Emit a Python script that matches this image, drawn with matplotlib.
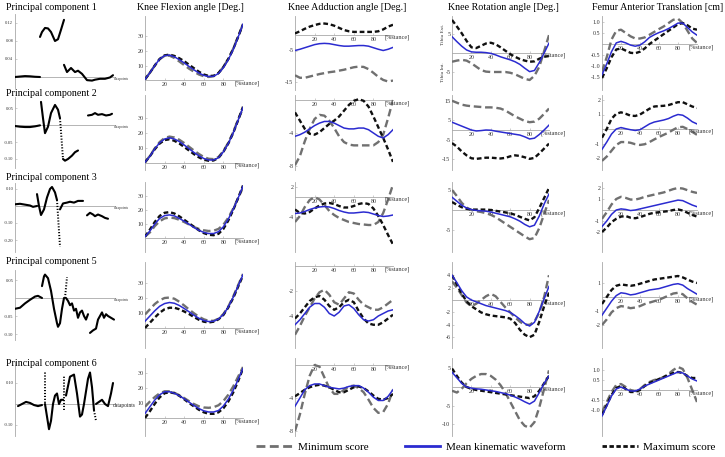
import numpy as np
import matplotlib
matplotlib.use("Agg")
import matplotlib.pyplot as plt
from matplotlib.lines import Line2D

plt.rcParams['font.family'] = ['Liberation Serif', 'DejaVu Serif']

# ---------------- data ----------------
stance = [0, 5, 10, 15, 20, 25, 30, 35, 40, 45, 50, 55, 60, 65, 70, 75, 80, 85, 90, 95, 100]
x_ticks = [20, 40, 60, 80]

row_titles = ["Principal component 1", "Principal component 2", "Principal component 3",
              "Principal component 5", "Principal component 6"]
col_titles = ["Knee Flexion angle [Deg.]", "Knee Adduction angle [Deg.]",
              "Knee Rotation angle [Deg.]", "Femur Anterior Translation [cm]"]
legend_labels = ["Minimum score", "Mean kinematic waveform", "Maximum score"]

# Knee flexion  (min, mean, max) per row
flex_min = [
    [0.5,5,10,14.5,16.6,16.8,15.2,12.8,10.3,7.8,5.7,3.8,2.6,2.1,2.6,4.8,9,14.6,21.6,30,38.5],
    [0.5,4.8,9.8,14,16.7,17.6,17,15.5,13.3,10.8,8.3,6,4,2.8,2.6,4,8,13.5,20.5,29,36.5],
    [1,4,8.5,12,14,14.6,14.2,13,11.4,9.6,7.8,6.5,5.5,5,5.2,6.5,9.5,14.5,21,28.5,36],
    [9,12.5,16,18.5,20,20.3,19.5,17.5,15,12.3,9.8,7.5,5.8,4.8,4.8,6.2,9.3,14.3,21,28.5,36],
    [7.5,11,14,16.5,17.8,17.8,16.8,15.2,13.3,11.2,9.3,7.8,7,6.8,7.2,8.5,11.3,15.5,21,27.5,34],
]
flex_mean = [
    [0.5,5,10,14.5,16.8,17.2,16,14,11.8,9.3,7,4.8,3.2,2.4,2.6,4.5,8.5,14,21,29.5,38.5],
    [0.5,4.5,9.5,13.5,16,16.8,16,14.3,12,9.5,7,4.8,3,2,2,3.5,7.5,13,20,28.5,37],
    [1,5,10,14,16,16.5,15.8,14,12,9.8,7.5,5.5,4,3.2,3.2,4.5,8,13.5,20.5,28.5,37],
    [4.5,8,11.5,14.5,16.3,17,16.5,15,13,10.8,8.5,6.5,5,4.3,4.5,6,9,14,20.5,28,35.5],
    [3,7.5,12,15.5,17.5,17.5,16.5,14.8,12.8,10.5,8.3,6.3,4.8,4,4,5,8,12.5,18.5,25.5,33],
]
flex_max = [
    [0.5,5,10,14.5,17,17.5,16.6,15,13,10.5,8.1,5.7,3.8,2.8,2.9,4.8,9,14.5,21.3,29.7,38.5],
    [0.5,4.5,9.2,13,15.3,15.8,14.8,13,10.7,8.3,5.9,3.8,2.2,1.5,1.7,3.4,7.5,13,20,28.5,37.5],
    [1,6,11.5,15.8,18,18.5,17.5,15.5,13,10.5,8,5.5,3.5,2.3,2,3,6.5,12.5,20,28.5,37.5],
    [0,3.5,7,10.2,12.5,13.5,13.5,12.5,11,9.3,7.3,5.5,4.2,3.7,4.2,5.8,8.7,13.7,20,27.5,35],
    [0,4.5,9.5,13.8,16.5,17.2,16.5,14.8,12.5,10,7.7,5.5,3.8,2.8,2.8,3.8,6.5,11,17,24.5,33],
]

# Knee adduction
add_min = [
    [-13,-13.8,-13.8,-13.4,-13,-12.6,-12.3,-12,-11.8,-11.5,-11.2,-10.8,-10.4,-10.2,-10.3,-11,-12.2,-13.5,-14.5,-15,-14.7],
    [-7.9,-6.8,-5,-3.5,-2.3,-1.8,-1.9,-2.5,-3.4,-4.4,-5.1,-5.4,-5.5,-5.5,-5.5,-5.5,-5.5,-5.1,-4.2,-2.2,0],
    [-5,-3.8,-2,-0.6,0,-0.5,-1.6,-2.8,-3.6,-4.2,-4.6,-5,-5.2,-5.4,-5.5,-5.6,-5.6,-5,-3.2,-0.5,2.5],
    [-5.5,-4.8,-4,-3.3,-2.6,-2.1,-1.9,-2.3,-2.9,-3.1,-2.6,-2.1,-2.2,-2.7,-3.1,-3.3,-3.5,-3.5,-3.3,-3,-2.7],
    [-8,-6,-3.5,-1.3,0,-0.2,-1.5,-2.8,-3.5,-3.5,-3,-2.6,-2.5,-2.8,-3.3,-4.2,-5.2,-5.8,-5.7,-4.7,-3],
]
add_mean = [
    [-5,-4.6,-4.1,-3.6,-3.1,-2.8,-2.7,-2.8,-3.1,-3.4,-3.6,-3.6,-3.5,-3.4,-3.4,-3.6,-4.1,-4.6,-5,-4.6,-4],
    [-4.4,-4.2,-3.9,-3.5,-3.1,-2.8,-2.6,-2.6,-2.8,-3.1,-3.4,-3.5,-3.5,-3.4,-3.4,-3.6,-4,-4.4,-4.6,-4.2,-3.6],
    [-3.3,-3.2,-2.9,-2.5,-2.2,-2,-1.9,-2,-2.3,-2.7,-3,-3.2,-3.2,-3.1,-3,-3.1,-3.4,-3.7,-3.9,-3.8,-3.6],
    [-4.7,-4.3,-3.8,-3.3,-3,-3,-3.3,-3.8,-4,-3.7,-3.2,-3.1,-3.4,-3.9,-4.3,-4.4,-4.3,-4,-3.8,-3.6,-3.5],
    [-5,-4,-3,-2.5,-2.3,-2.3,-2.5,-2.7,-2.8,-2.9,-2.8,-2.6,-2.5,-2.5,-2.8,-3.3,-3.9,-4.3,-4.3,-3.8,-3],
]
add_max = [
    [0.5,1.2,2,2.7,3.2,3.6,3.7,3.5,3,2.3,1.6,1.2,1,1,1,1,1,1.2,1.8,2.7,3.3],
    [-1.5,-2.5,-3.5,-4.1,-4.2,-3.9,-3.4,-2.9,-2.5,-2,-1.3,-0.6,-0.1,0.1,-0.1,-0.8,-2,-3.3,-4.6,-6,-7.5],
    [-2.5,-3.2,-3.3,-3,-2.3,-1.7,-1.3,-1.2,-1.4,-1.8,-2.1,-2.1,-1.8,-1.4,-1.2,-1.4,-2.3,-3.8,-5.6,-7.6,-9.5],
    [-4.2,-3.8,-3.3,-2.8,-2.5,-2.4,-2.7,-3.2,-3.5,-3.3,-2.9,-2.7,-2.9,-3.6,-4.2,-4.6,-4.7,-4.7,-4.5,-4.2,-3.9],
    [-3.8,-3.4,-3,-2.7,-2.5,-2.4,-2.5,-2.7,-3,-3.3,-3.3,-3,-2.7,-2.6,-2.8,-3.2,-3.7,-4.1,-4.2,-4,-3.5],
]

# Knee rotation
rot_min = [
    [-2.3,-2,-1.8,-2,-2.7,-3.6,-4.5,-4.9,-5,-5,-5,-5,-5.2,-5.6,-6.2,-6.8,-7.1,-6,-3.6,0.5,4.7],
    [15,14,13,12.5,12.2,12,11.8,11.6,11.6,11.4,11,10,8.5,7,5.8,4.6,4,4.3,5.8,8.3,11],
    [5,3.5,1.8,0.6,0,-0.3,-0.5,-0.8,-1.2,-1.8,-2.6,-3.4,-4.2,-5,-5.8,-6.6,-7.3,-7,-4.5,-1,2.5],
    [3,2,0.8,-0.4,-1,-0.6,0,0.6,1,0.6,-0.3,-1.2,-2,-2.8,-3.5,-4,-4,-3.5,-2,0.5,4],
    [-1,-1.5,-0.5,1,2.2,3,3.5,3.5,3,2,0.5,-1.5,-4,-6.5,-9,-10.5,-11,-9.5,-5.5,-0.5,4.5],
]
rot_mean = [
    [4.3,3,1.8,0.8,0.3,0.2,0.2,0.1,-0.1,-0.5,-1,-1.4,-1.8,-2.3,-3,-4,-4.9,-4.6,-2.5,0,2.6],
    [4,3,2,1,0,-0.5,-0.3,0,-0.1,-0.6,-1,-1.4,-1.8,-2.2,-2.6,-3.5,-4.6,-4.2,-2.3,0,2.5],
    [3.2,2.2,1.2,0.5,0.1,-0.1,-0.2,-0.3,-0.5,-0.8,-1.1,-1.4,-1.7,-2.2,-2.8,-3.6,-4.2,-3.8,-1.5,1.5,4],
    [4,2.8,1.5,0.5,0,-0.3,-0.6,-0.9,-1.1,-1.3,-1.5,-1.7,-2,-2.5,-3.1,-3.8,-4.2,-3.6,-1.8,0.2,2.2],
    [4,2.5,1,0,-0.3,-0.5,-0.6,-0.8,-1,-1.2,-1.5,-1.8,-2.2,-2.7,-3.3,-4,-4.6,-3.8,-1.5,1,3],
]
rot_max = [
    [8.7,7,5.2,3.2,1.5,1.3,1.9,2.5,2.7,2.3,1.5,0.6,-0.3,-1,-1.6,-2,-2.3,-2.2,-1.5,-1,-0.8],
    [-6.7,-8.5,-11,-13,-14.5,-14.8,-14.5,-14.2,-14.2,-14.4,-14.6,-14.3,-13.5,-13,-13.3,-14,-14.8,-14.3,-12,-9.5,-7],
    [2,1.3,0.7,0.3,0.1,0.1,0.1,0.1,0,-0.2,-0.4,-0.6,-0.8,-1.2,-1.7,-2.2,-2.6,-1.8,0.5,3,5.5],
    [4,2.5,1,-0.2,-1,-1.5,-2,-2.3,-2.5,-2.6,-2.7,-2.8,-3,-3.7,-4.8,-5.6,-6,-5.6,-3.5,-1,1.2],
    [5,3,1.2,0,-0.5,-0.8,-1,-1.2,-1.4,-1.6,-1.8,-2,-2.2,-2.4,-2.6,-2.8,-3,-2.5,-1,1,3],
]

# Femur anterior translation
fem_min = [
    [-1.25,-0.6,0.2,0.6,0.65,0.5,0.35,0.25,0.25,0.3,0.42,0.55,0.68,0.8,0.95,1.1,1.15,0.95,0.6,0.25,0.05],
    [-2.2,-1.9,-1.5,-1.1,-0.9,-0.9,-0.95,-1.05,-1.1,-1.05,-0.9,-0.72,-0.55,-0.4,-0.25,-0.05,0.12,0.15,0,-0.2,-0.4],
    [-0.8,-0.2,0.5,1,1.2,1.1,0.95,0.95,1.05,1.2,1.3,1.4,1.5,1.6,1.75,1.9,2,1.95,1.8,1.65,1.55],
    [-2,-1.6,-1.1,-0.8,-0.65,-0.7,-0.8,-0.75,-0.65,-0.5,-0.4,-0.3,-0.2,-0.05,0.1,0.25,0.3,0.2,-0.1,-0.35,-0.55],
    [-1.1,-0.6,-0.1,0.25,0.3,0.15,0,-0.05,0.05,0.25,0.4,0.5,0.55,0.65,0.8,1,1.15,1.05,0.6,0,-0.6],
]
fem_mean = [
    [-1.4,-0.9,-0.35,0.05,0.12,0.05,-0.05,-0.1,-0.05,0.1,0.3,0.42,0.52,0.6,0.7,0.82,0.95,0.95,0.75,0.55,0.4],
    [-1.4,-0.9,-0.35,0,0.1,0.02,-0.05,-0.1,-0.05,0.15,0.35,0.48,0.55,0.62,0.72,0.88,1,0.95,0.75,0.5,0.35],
    [-1.5,-1,-0.4,0,0.1,0.05,-0.05,0,0.1,0.2,0.3,0.4,0.5,0.6,0.7,0.8,0.9,0.85,0.65,0.45,0.3],
    [-1.3,-0.8,-0.3,0.1,0.3,0.25,0.15,0.2,0.3,0.4,0.5,0.55,0.6,0.7,0.8,0.9,0.95,0.85,0.6,0.4,0.2],
    [-1.3,-0.8,-0.3,0.05,0.15,0.05,-0.05,-0.05,0.05,0.2,0.3,0.4,0.5,0.6,0.7,0.8,0.9,0.85,0.7,0.55,0.45],
]
fem_max = [
    [-1.55,-1.1,-0.6,-0.25,-0.2,-0.3,-0.4,-0.42,-0.35,-0.2,0,0.15,0.3,0.45,0.6,0.75,0.9,0.95,0.85,0.7,0.65],
    [-0.6,0,0.7,1.05,1.15,1.05,0.92,0.9,1,1.2,1.4,1.55,1.58,1.6,1.65,1.75,1.85,1.85,1.7,1.55,1.45],
    [-2,-1.6,-1.1,-0.8,-0.6,-0.55,-0.7,-0.75,-0.65,-0.5,-0.35,-0.25,-0.2,-0.15,-0.1,0,0.05,-0.05,-0.25,-0.45,-0.6],
    [-0.5,0,0.5,0.8,0.9,0.85,0.8,0.85,0.95,1.05,1.15,1.25,1.3,1.35,1.4,1.45,1.5,1.4,1.25,1.1,1],
    [-1.25,-0.75,-0.25,0.1,0.2,0.05,-0.1,-0.1,0,0.2,0.35,0.45,0.55,0.65,0.75,0.85,0.9,0.85,0.7,0.6,0.6],
]

# y tick values for each panel [row][col]
yticks_kin = [
    [[10, 20, 30], [-15, -5], [-5, 5], [-1.5, -1.0, -0.5, 0.5, 1.0]],
    [[10, 20, 30], [-8, -4], [-15, -5, 5, 15], [-2, -1, 1, 2]],
    [[10, 20, 30], [-4, 2], [-5, 5], [-2, -1, 1, 2]],
    [[10, 20, 30], [-4, -2], [-6, -4, -2, 2, 4], [-2, -1, 1]],
    [[10, 20, 30], [-8, -4], [-10, -5, 5], [-1.0, -0.5, 0.5, 1.0]],
]

# Principal component waveforms (datapoint index, loading); NaN separates pieces
nan = float('nan')
pc1_x = [0,25,50,75,100,125, nan, 125,135,150,165,180,200,215,230,245, nan,
         245,260,280,300,315,335,360,385,400,425,450,475,490]
pc1_y = [0,0.001,0.002,0.0015,0.0005,0, nan, 0.089,0.1,0.109,0.108,0.1,0.08,0.084,0.105,0.127, nan,
         0.027,0.011,0.02,0.011,0.014,0.007,-0.007,-0.008,-0.006,-0.004,-0.004,-0.001,0.004]
pc1_dx = []
pc1_dy = []

pc2_x = [0,25,50,75,100,125, nan, 130,140,150,165,180,200,215,225, nan,
         240,250,265,285,300,315, nan, 365,385,400,415,435,455,475,485]
pc2_y = [-0.003,-0.005,-0.006,-0.006,-0.004,-0.001, nan, 0.068,0.02,-0.024,-0.005,0.035,0.059,0.045,0.02, nan,
         -0.1,-0.105,-0.1,-0.09,-0.08,-0.075, nan, 0.028,0.03,0.035,0.03,0.032,0.028,0.03,0.033]
pc2_dx = [225, 240]
pc2_dy = [0.02, -0.1]

pc3_x = [0,25,50,75,90,110, nan, 110,120,130,145,160,175,185,200,210, nan,
         225,240,260,275,295,315,340, nan, 360,375,390,400,415,435,450,465]
pc3_y = [0.01,0.013,0.008,0.003,-0.005,0, nan, 0.07,0,-0.053,-0.02,0.05,0.1,0.112,0.08,0.035, nan,
         -0.02,0.015,0.02,0.025,0.02,0.03,0.03, nan, -0.055,-0.04,-0.05,-0.06,-0.05,-0.06,-0.07,-0.075]
pc3_dx = [210, 225]
pc3_dy = [0.035, -0.24]

pc5_x = [0,25,50,75,100,115,135, nan, 135,145,150,165,180,195,210,215,225,235,245, nan,
         255,265,275,285,295,305,315,325,335,345,355,365, nan,
         375,390,405,415,425,435,445,455,465,480,495]
pc5_y = [-0.03,-0.027,-0.015,-0.005,0.004,0.006,0, nan, 0.033,0.06,0.065,0.055,0.02,-0.03,-0.07,-0.08,-0.07,-0.03,0, nan,
         0,-0.008,-0.02,-0.015,-0.035,-0.03,-0.055,-0.04,-0.035,-0.05,-0.06,-0.045, nan,
         -0.097,-0.09,-0.085,-0.06,-0.05,-0.04,-0.055,-0.045,-0.05,-0.055,-0.06]
pc5_dx = [250, 260]
pc5_dy = [0.0, 0.058]

pc6_x = [15,35,55,75,95,115,135, nan, 150,160,170,180,190,200,210,220,230,240, nan,
         255,275,295,310,325,335,345,355,365,375,385,395, nan, 405,420,435,450,465,480,490]
pc6_y = [-0.01,0,0.01,0.005,-0.005,-0.01,-0.005, nan, 0,-0.06,-0.12,-0.08,0,0.04,0.05,0,0.02,0.02, nan,
         0.04,0.13,0.14,0.05,-0.06,-0.05,0,0.06,0.12,0.15,0.08,-0.03, nan, 0,0.01,0.02,0,-0.01,0.05,0.1]
pc6_dx = [150, 150, nan, 245, 245, nan, 395, 405]
pc6_dy = [0.15, 0, nan, 0.13, -0.03, nan, -0.03, -0.08]

pc_x = [pc1_x, pc2_x, pc3_x, pc5_x, pc6_x]
pc_y = [pc1_y, pc2_y, pc3_y, pc5_y, pc6_y]
pc_dx = [pc1_dx, pc2_dx, pc3_dx, pc5_dx, pc6_dx]
pc_dy = [pc1_dy, pc2_dy, pc3_dy, pc5_dy, pc6_dy]
pc_yticks = [[0.04, 0.08, 0.12], [-0.10, -0.05, 0.05], [-0.20, -0.10, 0.10],
             [-0.10, -0.05, 0.05], [-0.10, 0.10]]

# ---------------- layout (pixels) ----------------
W, H = 725, 457
fig = plt.figure(figsize=(W / 100, H / 100), dpi=100)

row_box = [(16, 90), (95, 170), (182, 252), (262, 348), (358, 436)]
col_x = [(145, 243), (295, 393), (452, 549), (602, 697)]
# zero-line pixel and pixels per unit for [row][col]
zero_px = [[80, 35, 53, 44], [163, 100, 130, 129], [238, 197, 210, 210],
           [328, 266, 300, 297], [418, 365, 387, 390]]
ppu = [[1.45, 3.1, 3.8, 22], [1.5, 8.25, 1.95, 14.5], [1.4, 5, 4, 11],
       [1.5, 12.5, 6.2, 14], [1.5, 8.25, 3.7, 20]]
pc_box = [(14, 88), (97, 168), (183, 252), (270, 340), (362, 436)]
pc_zero = [77, 125, 206, 298, 404]
pc_ppu = [450, 340, 170, 360, 210]
pc_title_y = [8, 93, 178, 262, 363]

C_MIN, C_MEAN, C_MAX = '#707070', '#2b2bd0', '#101010'
AX_C = '#a8a8a8'


def add_ax(l, r, t, b):
    return fig.add_axes([l / W, 1 - b / H, (r - l) / W, (b - t) / H])


def style(ax):
    for s in ['top', 'right']:
        ax.spines[s].set_visible(False)
    for s in ['left', 'bottom']:
        ax.spines[s].set_color(AX_C)
        ax.spines[s].set_linewidth(0.6)
        ax.spines[s].set_position(('data', 0))
    ax.patch.set_alpha(0)
    ax.tick_params(direction='in', length=1.5, width=0.4, color=AX_C,
                   labelsize=4.3, labelcolor='#333333', pad=1.2)


all_min = [flex_min, add_min, rot_min, fem_min]
all_mean = [flex_mean, add_mean, rot_mean, fem_mean]
all_max = [flex_max, add_max, rot_max, fem_max]

for r in range(5):
    t, b = row_box[r]
    for c in range(4):
        l, rr = col_x[c]
        ax = add_ax(l, rr, t, b)
        z, p = zero_px[r][c], ppu[r][c]
        ax.set_xlim(0, 100)
        ax.set_ylim((z - b) / p, (z - t) / p)
        style(ax)
        ax.plot(stance, all_min[c][r], color=C_MIN, lw=1.7,
                linestyle=(0, (3.2, 1.6)), zorder=3)
        ax.plot(stance, all_max[c][r], color=C_MAX, lw=1.7,
                linestyle=(0, (2.0, 1.2)), zorder=4)
        ax.plot(stance, all_mean[c][r], color=C_MEAN, lw=1.1, zorder=5)
        ax.set_xticks(x_ticks)
        ax.set_xticklabels([str(v) for v in x_ticks])
        yt = yticks_kin[r][c]
        ax.set_yticks(yt)
        if c == 3:
            ax.set_yticklabels(['%.1f' % v if r in (0, 4) else '%d' % v for v in yt])
        else:
            ax.set_yticklabels(['%d' % v for v in yt])
        ax.text(91, 0, '[%stance]', fontsize=4.5, color='#333333', ha='left', va='top',
                transform=ax.transData, clip_on=False)
        if r == 0 and c == 2:
            ax.text(-9, 5, 'Tibia Ext.', rotation=90, fontsize=3.8, color='#333333',
                    ha='center', va='center', clip_on=False)
            ax.text(-9, -5, 'Tibia Int.', rotation=90, fontsize=3.8, color='#333333',
                    ha='center', va='center', clip_on=False)

# principal component columns
for r in range(5):
    t, b = pc_box[r]
    ax = add_ax(15, 115, t, b)
    ax.set_xlim(0, 500)
    z, p = pc_zero[r], pc_ppu[r]
    ax.set_ylim((z - b) / p, (z - t) / p)
    style(ax)
    ax.tick_params(labelsize=3.3)
    ax.plot(pc_x[r], pc_y[r], color='black', lw=1.5, solid_capstyle='round', zorder=3)
    if pc_dx[r]:
        ax.plot(pc_dx[r], pc_dy[r], color='black', lw=1.4, linestyle=(0, (0.6, 0.9)), zorder=3)
    ax.set_xticks([])
    ax.set_yticks(pc_yticks[r])
    ax.set_yticklabels(['%.2f' % v for v in pc_yticks[r]])
    if r < 4:
        ax.text(493, 0, 'datapoints', fontsize=2.6, color='#333333', ha='left', va='top',
                clip_on=False)
    else:
        ax.text(488, -0.005, 'datapoints', fontsize=4.0, color='#222222', ha='left', va='center',
                clip_on=False)
    fig.text(6 / W, 1 - pc_title_y[r] / H, row_titles[r], fontsize=7.2, ha='left', va='center')

col_title_x = [137, 288, 448, 592]
for c in range(4):
    fig.text(col_title_x[c] / W, 1 - 8 / H, col_titles[c], fontsize=7.2, ha='left', va='center')

handles = [Line2D([], [], color=C_MIN, lw=2, linestyle=(0, (3.2, 1.6))),
           Line2D([], [], color=C_MEAN, lw=2),
           Line2D([], [], color=C_MAX, lw=2, linestyle=(0, (1.6, 0.9)))]
fig.legend(handles, legend_labels, loc='center', bbox_to_anchor=(486 / W, 1 - 447 / H),
           ncol=3, frameon=False, fontsize=8, handlelength=3.2, handletextpad=0.5,
           columnspacing=3.3)

fig.savefig('out.png', dpi=100)
